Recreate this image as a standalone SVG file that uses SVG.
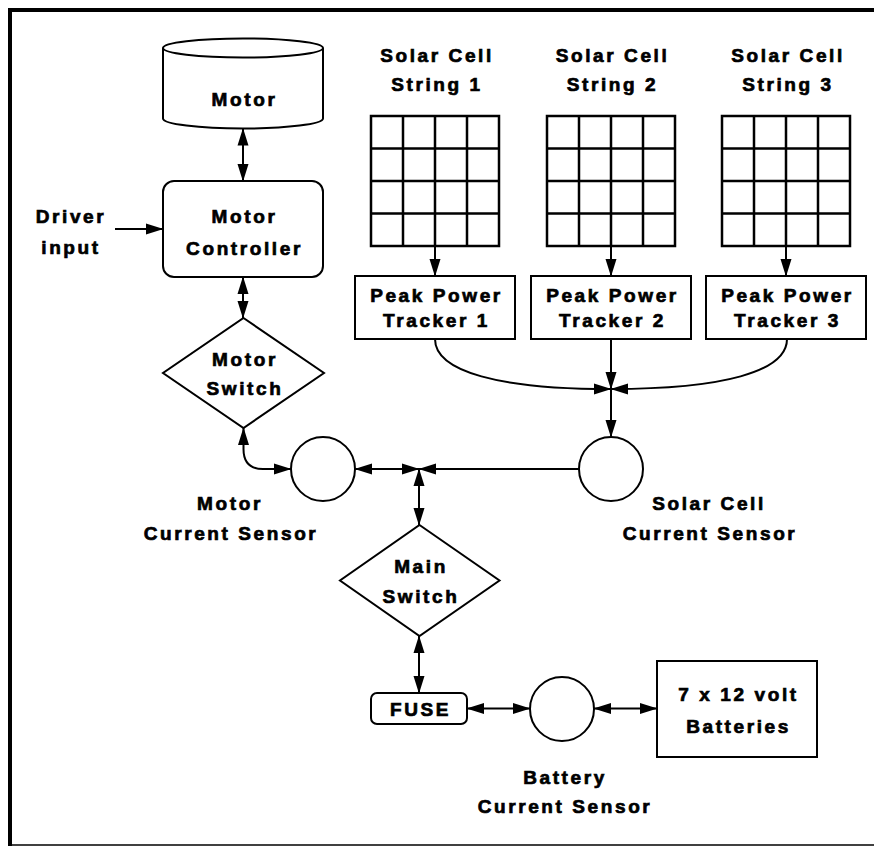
<svg xmlns="http://www.w3.org/2000/svg" width="874" height="846" viewBox="0 0 874 846">
<style>
.s{fill:#fff;stroke:#000;stroke-width:2}
.g{fill:none;stroke:#000;stroke-width:2.5}
.t{font-family:"Liberation Sans",Arial,Helvetica,sans-serif;font-weight:bold;font-size:19px;letter-spacing:2.6px;text-anchor:middle;fill:#000;stroke:#000;stroke-width:0.7px}
.c{fill:none;stroke:#000;stroke-width:2}
.b{marker-start:url(#ah);marker-end:url(#ah)}
.e{marker-end:url(#ah)}
</style>
<defs>
<marker id="ah" markerUnits="userSpaceOnUse" viewBox="0 0 18 12" markerWidth="18" markerHeight="12" refX="17" refY="6" orient="auto-start-reverse">
<path d="M0,0.5 L17.5,6 L0,11.5 Z" fill="#000"/>
</marker>
</defs>
<rect x="0" y="0" width="874" height="846" fill="#fff"/>
<g id="frame" stroke="#000" fill="none">
<line x1="8" y1="10" x2="874" y2="10" stroke-width="4"/>
<line x1="10" y1="8" x2="10" y2="846" stroke-width="4"/>
<line x1="10" y1="845" x2="874" y2="845" stroke-width="1.5"/>
</g>
<g id="motor">
<path class="s" d="M163,48 L163,118.5 A80,10 0 0 0 323,118.5 L323,48"/>
<ellipse class="s" cx="243" cy="48" rx="80" ry="9.5"/>
<text class="t" x="244.5" y="106">Motor</text>
</g>
<g id="motor-controller">
<rect class="s" x="163" y="181" width="160" height="96" rx="11"/>
<text class="t" x="244.5" y="222.5">Motor</text>
<text class="t" x="244.5" y="254.5">Controller</text>
</g>
<g id="driver-input">
<text class="t" x="71" y="222.5">Driver</text>
<text class="t" x="71" y="254">input</text>
</g>
<g id="motor-switch">
<polygon class="s" points="243.5,318 324,373 243.5,428 163,373"/>
<text class="t" x="245" y="366">Motor</text>
<text class="t" x="245" y="395">Switch</text>
</g>
<g id="string1">
<text class="t" x="437" y="62">Solar Cell</text>
<text class="t" x="437" y="91">String 1</text>
<rect class="g" x="371" y="116" width="128" height="130"/>
<path class="g" d="M403,116V246M435,116V246M467,116V246M371,148.5H499M371,181H499M371,213.5H499"/>
</g>
<g id="string2">
<text class="t" x="612.5" y="62">Solar Cell</text>
<text class="t" x="612.5" y="91">String 2</text>
<rect class="g" x="547" y="116" width="128" height="130"/>
<path class="g" d="M579,116V246M611,116V246M643,116V246M547,148.5H675M547,181H675M547,213.5H675"/>
</g>
<g id="string3">
<text class="t" x="788" y="62">Solar Cell</text>
<text class="t" x="788" y="91">String 3</text>
<rect class="g" x="722" y="116" width="128" height="130"/>
<path class="g" d="M754,116V246M786,116V246M818,116V246M722,148.5H850M722,181H850M722,213.5H850"/>
</g>
<g id="tracker1">
<rect class="s" x="355" y="276" width="160" height="63"/>
<text class="t" x="436.5" y="302">Peak Power</text>
<text class="t" x="436.5" y="327">Tracker 1</text>
</g>
<g id="tracker2">
<rect class="s" x="531" y="276" width="160" height="63"/>
<text class="t" x="612.5" y="302">Peak Power</text>
<text class="t" x="612.5" y="327">Tracker 2</text>
</g>
<g id="tracker3">
<rect class="s" x="706" y="276" width="160" height="63"/>
<text class="t" x="787.5" y="302">Peak Power</text>
<text class="t" x="787.5" y="327">Tracker 3</text>
</g>
<g id="motor-current-sensor">
<circle class="s" cx="323" cy="469" r="32"/>
<text class="t" x="230" y="510">Motor</text>
<text class="t" x="231" y="540">Current Sensor</text>
</g>
<g id="solar-current-sensor">
<circle class="s" cx="611" cy="469" r="32"/>
<text class="t" x="709" y="510">Solar Cell</text>
<text class="t" x="710" y="540">Current Sensor</text>
</g>
<g id="main-switch">
<polygon class="s" points="419.5,525 499.5,580.5 419.5,636 340,580.5"/>
<text class="t" x="421" y="573">Main</text>
<text class="t" x="421" y="603">Switch</text>
</g>
<g id="fuse">
<rect class="s" x="371" y="693" width="96" height="31" rx="6"/>
<text class="t" x="420.5" y="715.5">FUSE</text>
</g>
<g id="battery-current-sensor">
<circle class="s" cx="562" cy="709" r="32"/>
<text class="t" x="565" y="784">Battery</text>
<text class="t" x="565" y="813">Current Sensor</text>
</g>
<g id="batteries">
<rect class="s" x="657" y="661" width="160" height="96"/>
<text class="t" x="738.5" y="701">7 x 12 volt</text>
<text class="t" x="738.5" y="733">Batteries</text>
</g>
<g id="connectors">
<line class="c b" x1="243" y1="128.5" x2="243" y2="181"/>
<line class="c e" x1="115" y1="229" x2="163" y2="229"/>
<line class="c b" x1="243" y1="277" x2="243" y2="318"/>
<line class="c e" x1="435" y1="246" x2="435" y2="276"/>
<line class="c e" x1="611" y1="246" x2="611" y2="276"/>
<line class="c e" x1="786" y1="246" x2="786" y2="276"/>
<path class="c e" d="M435,339 C435,372 500,389 611,389"/>
<line class="c e" x1="611" y1="339" x2="611" y2="389"/>
<path class="c e" d="M787,339 C787,372 722,389 611,389"/>
<line class="c e" x1="611" y1="389" x2="611" y2="437"/>
<line class="c e" x1="579" y1="469" x2="419" y2="469"/>
<line class="c b" x1="419" y1="469" x2="355" y2="469"/>
<path class="c b" d="M243.5,428 L243.5,449 Q243.5,469 263,469 L291,469"/>
<line class="c b" x1="419" y1="469" x2="419" y2="525"/>
<line class="c b" x1="419" y1="636" x2="419" y2="693"/>
<line class="c b" x1="467" y1="708.5" x2="530" y2="708.5"/>
<line class="c b" x1="594" y1="708.5" x2="657" y2="708.5"/>
</g>
</svg>
